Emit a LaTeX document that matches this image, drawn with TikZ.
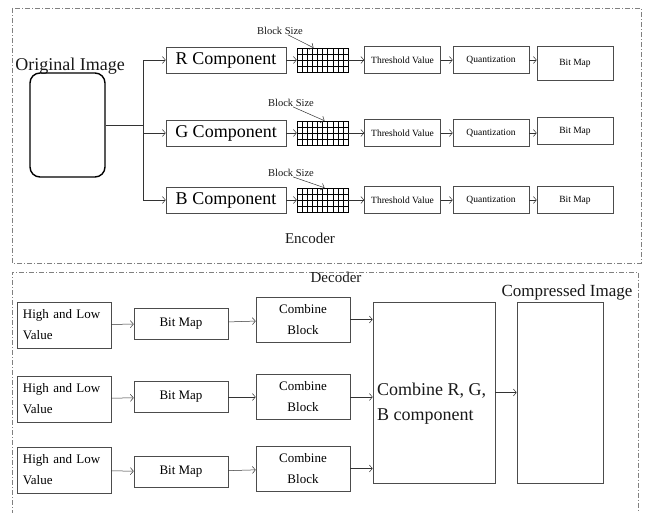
\documentclass[tikz,border=0pt]{standalone}
\usepackage{fontspec}
\setmainfont{Liberation Serif}
\usetikzlibrary{arrows.meta}
\usetikzlibrary{positioning}
\tikzset{
frame/.style = { draw = black!50, line width = 0.5pt, dash pattern = on 5pt off 2pt on 1pt off 2pt },
arr/.style = { draw = black!80, line width = 0.5pt, -{Straight Barb[length = 3pt, width = 7pt]} },
stage/.style = { rectangle, draw = black!70, fill = white, line width = 0.6pt, inner sep = 2pt },
note/.style = { inner sep = 0pt, text = black!90 },
orig box/.style = { rectangle, draw = black, line width = 1.4pt, rounded corners = 10pt, minimum width = 75pt, minimum height = 104pt },
comp/.style = { stage, minimum width = 120pt, minimum height = 26pt, font = \fontsize{18}{20}\selectfont },
enc stage/.style = { stage, minimum width = 76pt, minimum height = 27pt, font = \fontsize{9.5}{11}\selectfont },
dec stage/.style = { stage, minimum width = 94pt, minimum height = 31pt, font = \fontsize{13}{21}\selectfont },
two line/.style = { dec stage, minimum height = 45pt, align = center },
hl box/.style = { dec stage, minimum height = 46pt, text width = 82pt, align = left },
tall box/.style = { stage, minimum height = 181pt },
block grid/.style = { rectangle, draw = black, line width = 0.5pt, minimum width = 51pt, minimum height = 24pt, inner sep = 0pt,
    path picture = {
        \foreach \gx in {1, ..., 9} {
            \path[draw = black, line width = 0.4pt] ([xshift = \gx * 5.1pt] path picture bounding box.south west) -- ([xshift = \gx * 5.1pt] path picture bounding box.north west);
        }
        \foreach \gy in {1, 2, 3} {
            \path[draw = black, line width = 0.4pt] ([yshift = \gy * 6pt] path picture bounding box.south west) -- ([yshift = \gy * 6pt] path picture bounding box.south east);
        }
    } },
}

\begin{document}
\begin{tikzpicture}[x = 1pt, y = -1pt]
    \useasboundingbox (0, 0) rectangle (649, 513);
    % encoder
    \path[frame] (12, 8) rectangle (641, 263);
    \node[note, font = \fontsize{18}{20}\selectfont] (origlabel) at (70, 66) {Original Image};
    \node[orig box] (orig) at (67.5, 125) {};
    \coordinate (split) at (143, 125);
    \node[comp] (rcomp) at (226, 60) {R Component};
    \node[comp] (gcomp) at (226, 133) {G Component};
    \node[comp] (bcomp) at (226, 200) {B Component};
    \node[block grid] (rgrid) at (322.5, 60) {};
    \node[block grid] (ggrid) at (322.5, 133) {};
    \node[block grid] (bgrid) at (322.5, 200) {};
    \node[note, font = \fontsize{10.5}{12}\selectfont] (rsize) at (280, 31) {Block Size};
    \node[note, font = \fontsize{10.5}{12}\selectfont] (gsize) at (291, 103) {Block Size};
    \node[note, font = \fontsize{10.5}{12}\selectfont] (bsize) at (291, 173) {Block Size};
    \node[enc stage] (rthresh) at (402.5, 60) {Threshold Value};
    \node[enc stage] (gthresh) at (402.5, 133) {Threshold Value};
    \node[enc stage] (bthresh) at (402.5, 200) {Threshold Value};
    \node[enc stage] (rquant) at (491, 60) {Quantization};
    \node[enc stage] (gquant) at (491, 133) {Quantization};
    \node[enc stage] (bquant) at (491, 200) {Quantization};
    \node[enc stage, minimum height = 34pt] (rbits) at (575, 63) {Bit Map};
    \node[enc stage] (gbits) at (575, 131) {Bit Map};
    \node[enc stage] (bbits) at (575, 200) {Bit Map};
    \node[note, font = \fontsize{15}{17}\selectfont] (enclabel) at (310, 238) {Encoder};
    \path[draw = black!80, line width = 0.5pt] (orig.east) -- (split);
    \draw[arr] (split) |- (rcomp.west);
    \draw[arr] (split) |- (gcomp.west);
    \draw[arr] (split) |- (bcomp.west);
    \draw[arr] (rcomp) -- (rgrid);
    \draw[arr] (gcomp) -- (ggrid);
    \draw[arr] (bcomp) -- (bgrid);
    \draw[arr] ([xshift = 8pt] rsize.south) -- ([xshift = -9pt] rgrid.north);
    \draw[arr] ([xshift = 2pt] gsize.south) -- ([xshift = 2pt] ggrid.north);
    \draw[arr] ([xshift = 2pt] bsize.south) -- ([xshift = 2pt] bgrid.north);
    \draw[arr] (rgrid) -- (rthresh);
    \draw[arr] (ggrid) -- (gthresh);
    \draw[arr] (bgrid) -- (bthresh);
    \draw[arr] (rthresh) -- (rquant);
    \draw[arr] (gthresh) -- (gquant);
    \draw[arr] (bthresh) -- (bquant);
    \draw[arr] (rquant.east) -- (rquant.east -| rbits.west);
    \draw[arr] (gquant.east) -- (gquant.east -| gbits.west);
    \draw[arr] (bquant) -- (bbits);
    % decoder
    \path[frame] (12, 515) -- (12, 272) -- (638, 272) -- (638, 515);
    \node[note, font = \fontsize{15}{17}\selectfont] (declabel) at (336, 277) {Decoder};
    \node[note, font = \fontsize{17}{19}\selectfont] (cimglabel) at (567, 292) {Compressed Image};
    \node[hl box] (hl1) at (64, 325) {High and Low Value};
    \node[hl box] (hl2) at (64, 399) {High and Low Value};
    \node[hl box] (hl3) at (64, 470) {High and Low Value};
    \node[dec stage] (bm1) at (181, 323.5) {Bit Map};
    \node[dec stage] (bm2) at (181, 397) {Bit Map};
    \node[dec stage] (bm3) at (181, 472) {Bit Map};
    \node[two line] (cb1) at (303, 319.5) {Combine\\Block};
    \node[two line] (cb2) at (303, 397) {Combine\\Block};
    \node[two line] (cb3) at (303, 468.5) {Combine\\Block};
    \node[tall box, minimum width = 122pt] (big) at (434, 392.5) {};
    \node[note, anchor = west, align = left, font = \fontsize{18}{25}\selectfont] (bigtext) at (377, 404) {Combine R, G,\\B component};
    \node[tall box, minimum width = 86pt] (cimg) at (560, 392.5) {};
    \draw[arr] (hl1) -- (bm1);
    \draw[arr] (hl2) -- (bm2);
    \draw[arr] (hl3) -- (bm3);
    \draw[arr] (bm1) -- (cb1);
    \draw[arr] (bm2) -- (cb2);
    \draw[arr] (bm3) -- (cb3);
    \draw[arr] (cb1.east) -- (cb1.east -| big.west);
    \draw[arr] (cb2.east) -- (cb2.east -| big.west);
    \draw[arr] (cb3.east) -- (cb3.east -| big.west);
    \draw[arr] (big) -- (cimg);
\end{tikzpicture}
\end{document}
